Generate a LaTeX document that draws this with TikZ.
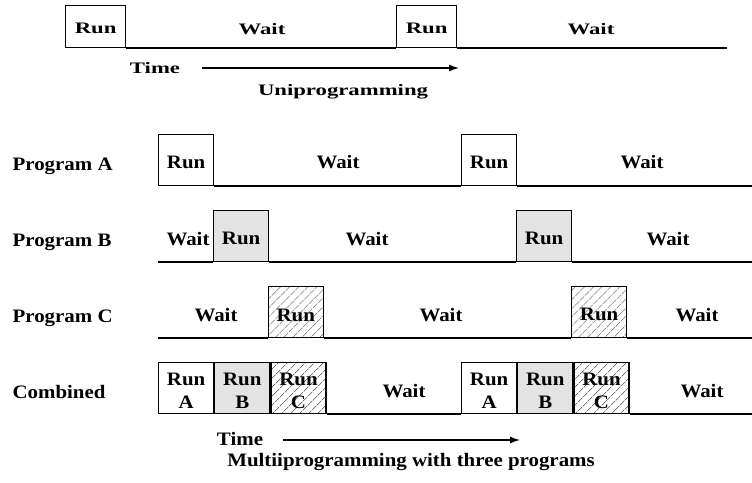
\documentclass[tikz,border=0pt]{standalone}
\usepackage{fontspec}
\setmainfont{Liberation Serif}
\newfontfamily\unifont[FakeStretch=1.42]{Liberation Serif}
\newfontfamily\multifont[FakeStretch=1.1]{Liberation Serif}
\usetikzlibrary{arrows.meta,patterns.meta,positioning}

\begin{document}
\begin{tikzpicture}[x=1pt,y=-1pt,>={Latex[length=10pt,width=7pt]},line width=1.2pt,node distance=0pt,
  every node/.style={font=\multifont\bfseries\fontsize{19}{23}\selectfont,inner sep=0pt},
  uni/.style={font=\unifont\bfseries\fontsize{16}{19}\selectfont},
  ubox/.style={uni,draw,minimum width=60pt,minimum height=42pt,anchor=south west,text height=14.4pt,text depth=0pt},
  run/.style={draw,minimum width=55pt,minimum height=51pt,anchor=south west,text height=18pt,text depth=0pt},
  two/.style={align=center,text height=41pt,text depth=0pt},
  runb/.style={run,fill=gray!22},
  runc/.style={run,pattern={Lines[angle=45,distance=6.5pt,line width=0.6pt]},pattern color=black!85}]
\useasboundingbox (0,0) rectangle (752,482);

% uniprogramming
\node[ubox] (u1) at (65,48)  {Run};
\node[ubox] (u2) at (396,48) {Run};
\coordinate (uend) at (727,48);
\node[uni] (uw1) at (262,29) {Wait};
\node[uni] (uw2) at (591,29) {Wait};
\draw (u1.south east) -- (u2.south west)
      (u2.south east) -- (uend);
\node[uni] (ut) at (155,68) {Time};
\coordinate (ut1) at (202,68);
\coordinate (ut2) at (459,68);
\draw[->] (ut1) -- (ut2);
\node[uni,anchor=base] (ucap) at (343,95) {Uniprogramming};

% multiprogramming
\node[anchor=base west] (pa) at (12,170) {Program A};
\node[anchor=base west] (pb) at (12,246) {Program B};
\node[anchor=base west] (pc) at (12,322) {Program C};
\node[anchor=base west] (pd) at (12,398) {Combined};

\node[run] (a1) at (158,186) {Run};
\node[run] (a2) at (461,186) {Run};
\coordinate (aend) at (752,186);
\node (aw1) at (338,162) {Wait};
\node (aw2) at (642,162) {Wait};
\draw (a1.south east) -- (a2.south west)
      (a2.south east) -- (aend);

\coordinate (b0) at (158,262);
\node[runb] (b1) at (213,262) {Run};
\node[runb] (b2) at (516,262) {Run};
\coordinate (bend) at (752,262);
\node (bw1) at (188,239) {Wait};
\node (bw2) at (367,239) {Wait};
\node (bw3) at (668,239) {Wait};
\draw (b0) -- (b1.south west)
      (b1.south east) -- (b2.south west)
      (b2.south east) -- (bend);

\coordinate (c0) at (158,338);
\node[runc] (c1) at (268,338) {Run};
\node[runc] (c2) at (571,338) {Run};
\coordinate (cend) at (752,338);
\node (cw1) at (216,315) {Wait};
\node (cw2) at (441,315) {Wait};
\node (cw3) at (697,315) {Wait};
\draw (c0) -- (c1.south west)
      (c1.south east) -- (c2.south west)
      (c2.south east) -- (cend);

\node[run,two] (d1) at (158,414) {Run\\A};
\node[runb,two,right=of d1] (d2) {Run\\B};
\node[runc,two,right=of d2] (d3) {Run\\C};
\node[run,two] (d4) at (461,414) {Run\\A};
\node[runb,two,right=of d4] (d5) {Run\\B};
\node[runc,two,right=of d5] (d6) {Run\\C};
\coordinate (dend) at (752,414);
\node (dw1) at (404,391) {Wait};
\node (dw2) at (702,391) {Wait};
\draw (d3.south east) -- (d4.south west)
      (d6.south east) -- (dend);

\node (mt) at (240,439) {Time};
\coordinate (mt1) at (283,440);
\coordinate (mt2) at (520,440);
\draw[->] (mt1) -- (mt2);
\node[anchor=base] (mcap) at (411,466) {Multiiprogramming with three programs};
\end{tikzpicture}
\end{document}
